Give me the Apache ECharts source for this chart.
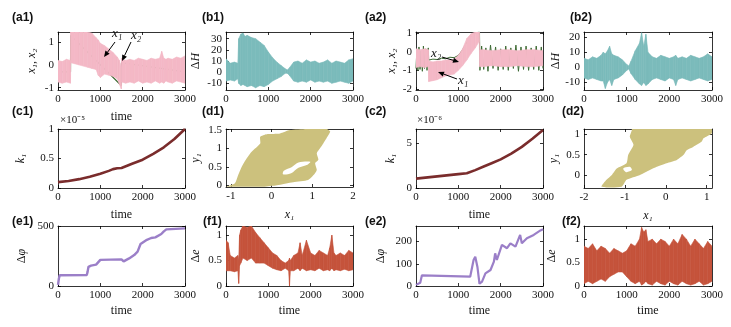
<!DOCTYPE html>
<html>
<head>
<meta charset="utf-8">
<script src="https://cdn.jsdelivr.net/npm/echarts@6/dist/echarts.min.js"></script>
<style>
html, body { margin: 0; padding: 0; background: #fff; }
#main { width: 731px; height: 327px; }
</style>
</head>
<body>
<div id="main"></div>
<script>
// ---- (a1) x1 band (pink) and x2 trace (green)
var a1T  = [0,100,200,295,300,400,500,600,700,800,900,950,1000,1100,1200,1300,1400,1450,1495,1505,1600,1700,1800,1900,2000,2100,2200,2300,2400,2450,2500,2550,2600,2700,2800,2900,3000];
var a1Hi = [0.2,0.15,0.25,0.2,1.45,1.45,1.45,1.45,1.45,1.4,1.2,1.1,0.95,0.85,0.7,0.55,0.35,0.2,-0.1,0.3,0.2,0.25,0.2,0.3,0.25,0.2,0.3,0.25,0.3,0.6,0.3,0.25,0.3,0.25,0.35,0.3,0.4];
var a1Lo = [-0.75,-0.8,-0.75,-0.8,0.1,0.05,0.0,-0.05,-0.1,-0.15,-0.2,-0.45,-0.55,-0.4,-0.45,-0.5,-0.6,-0.85,-1.05,-0.75,-0.8,-0.75,-0.8,-0.7,-0.8,-0.75,-0.8,-0.7,-0.8,-0.75,-0.8,-0.7,-0.75,-0.8,-0.7,-0.75,-0.8];
var a1X2T = [0,295,300,1495,1500,3000];
var a1X2V = [-0.3,-0.3,1.3,-0.9,0.1,-0.3];

// ---- (b1) delta H band (teal)
var b1T  = [0,100,200,280,300,350,400,450,500,600,700,800,900,1000,1100,1200,1300,1400,1450,1500,1600,1700,1800,1900,2000,2100,2200,2300,2400,2500,2600,2700,2800,2900,3000];
var b1Hi = [12,8,9,8,30,34,35,32,33,31,30,27,24,18,13,9,6,3,2,4,9,10,8,11,9,10,8,9,11,8,10,9,8,11,12];
var b1Lo = [-8,-7,-8,-6,-10,-12,-11,-12,-13,-12,-14,-12,-13,-11,-8,-6,-4,-1,-1,-3,-8,-9,-8,-9,-7,-9,-8,-9,-8,-10,-9,-8,-9,-10,-8];

// ---- (a2) x1 band (pink), x2 trace (green)
var a2T  = [0,100,200,295,300,400,500,600,700,800,900,1000,1100,1200,1300,1400,1495,1505,1600,1800,2000,2200,2400,2600,2800,3000];
var a2Hi = [0.15,0.1,0.15,0.1,-0.5,-0.55,-0.5,-0.5,-0.45,-0.45,-0.4,-0.2,0.15,0.7,0.95,1.05,1.05,0.1,0.1,0.05,0.1,0.1,0.05,0.1,0.1,0.05];
var a2Lo = [-0.85,-0.8,-0.85,-0.8,-1.6,-1.55,-1.5,-1.4,-1.3,-1.25,-1.2,-1.0,-0.75,-0.45,-0.1,0.2,0.55,-0.8,-0.8,-0.75,-0.8,-0.8,-0.75,-0.8,-0.8,-0.75];
var a2X2T = [0,20,45,70,95,120,150,175,200,230,260,290,300,400,500,600,700,800,900,1000,1100,1200,1300,1400,1500,1510,1550,1600,1650,1700,1760,1820,1880,1940,2000,2060,2120,2180,2240,2300,2360,2420,2480,2540,2600,2660,2720,2780,2840,2900,2960,3000];
var a2X2V = [-0.9,0.1,-1.0,0.25,-0.95,0.05,-1.05,0.3,-0.9,0.15,-1.0,0.2,-0.45,-0.4,-0.42,-0.35,-0.38,-0.3,-0.32,-0.2,0.1,0.5,0.8,1.0,1.05,-1.0,0.3,-0.95,0.2,-1.05,0.35,-0.9,0.25,-1.0,0.15,-0.95,0.3,-1.0,0.2,-0.9,0.35,-1.05,0.25,-0.95,0.3,-1.0,0.2,-0.95,0.3,-1.0,0.25,-0.9];

// ---- (b2) delta H band (teal)
var b2T  = [0,100,200,300,400,450,500,550,600,650,700,800,900,1000,1050,1100,1200,1300,1350,1400,1450,1500,1600,1700,1800,1900,2000,2100,2150,2200,2300,2400,2500,2600,2700,2800,2900,3000];
var b2Hi = [6,5,7,6,8,10,9,11,14,9,8,7,5,2,1,4,11,16,23,14,22,10,7,6,8,7,6,7,8,6,7,6,8,7,6,7,9,7];
var b2Lo = [-7,-8,-7,-8,-9,-9,-14,-10,-8,-12,-8,-7,-5,-2,-1,-4,-8,-11,-12,-10,-12,-11,-8,-7,-8,-9,-7,-8,-12,-8,-7,-8,-9,-8,-7,-8,-9,-8];

// ---- (c1) k1 (x1e-5), (c2) k1 (x1e-6)
var c1T = [0,250,500,750,1000,1200,1300,1400,1500,1750,2000,2250,2500,2750,3000];
var c1K = [0.1,0.12,0.15,0.19,0.24,0.29,0.32,0.335,0.34,0.41,0.48,0.58,0.69,0.83,1.0];
var c2T = [0,500,1000,1200,1400,1600,1800,2000,2250,2500,2750,3000];
var c2K = [1.05,1.3,1.55,1.65,2.0,2.4,2.8,3.2,3.85,4.6,5.5,6.5];

// ---- (d1), (d2) y1 vs x1 region outline and inner gap
var d1X = [-1.10,-0.90,-0.82,-0.73,-0.61,-0.49,-0.28,-0.28,-0.12,0.21,0.45,0.86,1.35,1.44,1.35,1.27,1.19,1.11,1.15,1.07,1.11,1.03,0.90,0.53,0.13,-0.20,-0.78];
var d1Y = [-0.03,0.06,0.28,0.51,0.73,0.91,1.13,1.31,1.38,1.40,1.49,1.52,1.52,1.45,1.27,1.13,1.00,0.87,0.69,0.60,0.42,0.28,0.15,0.09,0.01,-0.03,-0.03];
var d1GapX = [0.30,0.50,0.66,0.95,0.88,0.66,0.48,0.28];
var d1GapY = [0.40,0.50,0.62,0.64,0.56,0.48,0.33,0.30];
var d2X = [-1.57,-1.45,-1.32,-1.20,-0.96,-0.92,-0.79,-0.88,-0.83,-0.83,1.12,1.12,0.92,0.88,0.67,0.51,0.43,0.27,0.02,-0.22,-0.39,-0.63,-0.96,-1.08];
var d2Y = [-0.29,-0.12,0.0,0.16,0.29,0.49,0.74,0.94,1.10,1.13,1.13,1.02,0.90,0.82,0.69,0.61,0.49,0.37,0.29,0.20,0.12,0.0,-0.12,-0.29];
var d2GapX = [-1.04,-0.88,-0.83,-0.97];
var d2GapY = [0.16,0.20,0.12,0.07];

// ---- (e1), (e2) delta phi
var e1T = [0,20,40,680,700,720,780,800,900,1000,1500,1550,1580,1680,1800,1880,1920,1950,2100,2200,2300,2440,2500,2560,2600,3000];
var e1V = [10,60,90,92,120,160,170,175,178,218,222,205,203,230,258,286,300,350,385,400,405,433,455,472,480,480];
var e2T = [0,100,140,160,1280,1360,1400,1450,1500,1520,1560,1640,1760,1840,1870,1910,2030,2150,2230,2350,2460,2500,2620,2780,2940,3000];
var e2V = [5,15,48,42,42,117,132,87,10,5,20,57,72,110,147,117,185,170,192,177,230,192,215,230,250,255];

// ---- (f1), (f2) delta e bands
var f1T  = [0,50,100,200,280,300,320,350,400,500,600,700,800,900,1000,1100,1200,1300,1400,1480,1500,1520,1600,1700,1750,1800,1900,2000,2100,2200,2300,2400,2450,2500,2550,2600,2700,2800,2900,3000];
var f1Hi = [0.9,0.85,0.6,0.55,0.6,0.5,1.0,1.1,1.18,1.15,1.18,1.05,0.95,0.85,0.75,0.65,0.6,0.5,0.45,0.5,0.55,0.5,0.6,0.65,0.85,0.6,0.9,0.65,0.6,0.7,0.65,0.6,0.75,1.0,0.65,0.6,0.65,0.6,0.7,0.65];
var f1Lo = [0.3,0.3,0.3,0.28,0.3,0.05,0.4,0.45,0.55,0.5,0.55,0.45,0.45,0.45,0.4,0.35,0.32,0.3,0.35,0.3,0.0,0.3,0.3,0.35,0.3,0.35,0.3,0.32,0.3,0.35,0.3,0.32,0.3,0.35,0.3,0.32,0.3,0.33,0.3,0.32];
var f2T  = [0,100,200,300,400,500,600,700,800,900,1000,1100,1200,1300,1350,1400,1450,1500,1600,1700,1800,1900,2000,2100,2200,2300,2400,2500,2600,2700,2800,2900,3000];
var f2Hi = [0.85,0.8,0.9,0.75,0.85,0.8,0.7,0.8,0.75,0.7,0.75,0.9,0.85,1.0,1.25,1.15,1.2,0.95,1.0,0.9,1.0,0.95,0.85,1.0,0.9,1.1,1.0,0.85,1.0,0.9,0.8,0.95,0.85];
var f2Lo = [0.05,0.1,0.05,0.1,0.15,0.1,0.2,0.25,0.3,0.3,0.2,0.1,0.05,0.1,0.02,0.05,0.1,0.05,0.02,0.1,0.05,0.02,0.1,0.05,0.02,0.1,0.05,0.02,0.05,0.1,0.02,0.05,0.1];

// ---- axis ticks
var timeTicks = [0,1000,2000,3000];

var PINK = '#f4b8c6', GREEN = '#3d6a33', TEAL = '#7bbbbb', DRED = '#7a2c2c',
    OLIVE = '#ccc17d', PURPLE = '#9b7fc8', ORED = '#c5533b';
var SERIF = 'Liberation Serif';

var panels = [
  {id:'(a1)', g:[58,32,127,58],  x:[0,3000,timeTicks], y:[-1.1,1.45,[-1,0,1]], xName:'time', xGap:21, yName:'{i|x₁, x₂}', yGap:20, lab:[12,19]},
  {id:'(b1)', g:[226,32,127,58], x:[0,3000,timeTicks], y:[-16,36,[-10,0,10,20,30]], xName:'', yName:'{u|Δ}{i|H}', yGap:24, lab:[202,19]},
  {id:'(a2)', g:[416,32,127,58], x:[0,3000,timeTicks], y:[-2.05,1.05,[-2,-1,0,1]], xName:'', yName:'{i|x₁, x₂}', yGap:18, lab:[365,19]},
  {id:'(b2)', g:[584,32,128,58], x:[0,3000,timeTicks], y:[-15,23.5,[-10,0,10,20]], xName:'', yName:'{u|Δ}{i|H}', yGap:22, lab:[570,19]},
  {id:'(c1)', g:[58,129,127,59], x:[0,3000,timeTicks], y:[0,1,[0,0.5,1]], xName:'time', xGap:21, yName:'{i|k₁}', yGap:31, lab:[12,113]},
  {id:'(d1)', g:[226,129,127,58], x:[-1.12,2,[-1,0,1,2]], y:[-0.04,1.52,[0,0.5,1,1.5]], xName:'{i|x₁}', xGap:22, yName:'{i|y₁}', yGap:24, lab:[202,113]},
  {id:'(c2)', g:[416,129,127,59], x:[0,3000,timeTicks], y:[0,6.6,[0,5]], xName:'time', xGap:21, yName:'{i|k₁}', yGap:19, lab:[365,113]},
  {id:'(d2)', g:[584,129,128,59], x:[-2,1.13,[-2,-1,0,1]], y:[-0.32,1.13,[0,0.5,1]], xName:'{i|x₁}', xGap:22, yName:'{i|y₁}', yGap:24, lab:[562,113]},
  {id:'(e1)', g:[58,226,127,60], x:[0,3000,timeTicks], y:[0,500,[0,500]], xName:'time', xGap:19, yName:'{u|Δ}{i|φ}', yGap:30, lab:[12,223]},
  {id:'(f1)', g:[226,226,127,60], x:[0,3000,timeTicks], y:[0,1.18,[0,0.5,1]], xName:'time', xGap:19, yName:'{u|Δ}{i|e}', yGap:24, lab:[203,223]},
  {id:'(e2)', g:[416,226,127,60], x:[0,3000,timeTicks], y:[0,270,[0,100,200]], xName:'time', xGap:19, yName:'{u|Δ}{i|φ}', yGap:29, lab:[365,223]},
  {id:'(f2)', g:[584,226,128,60], x:[0,3000,timeTicks], y:[0,1.28,[0,0.5,1]], xName:'time', xGap:19, yName:'{u|Δ}{i|e}', yGap:26, lab:[562,223]}
];

var nameStyle = {
  fontFamily: SERIF, fontSize: 12, color: '#111',
  rich: {
    i: {fontFamily: SERIF, fontStyle: 'italic', fontSize: 12, color: '#111'},
    u: {fontFamily: SERIF, fontSize: 12, color: '#111'}
  }
};
var lineSt = {color: '#000', width: 0.8};
function plain(v) { return String(v); }

var grids = [], xAxes = [], yAxes = [], graphics = [];

panels.forEach(function (p, i) {
  grids.push({left: p.g[0], top: p.g[1], width: p.g[2], height: p.g[3], outerBoundsMode: 'none', containLabel: false});
  xAxes.push({
    type: 'value', gridIndex: i, position: 'bottom', min: p.x[0], max: p.x[1],
    axisLine: {onZero: false, lineStyle: lineSt},
    axisTick: {inside: true, length: 3, customValues: p.x[2], lineStyle: lineSt},
    axisLabel: {customValues: p.x[2], formatter: plain, margin: 4, fontFamily: SERIF, fontSize: 11, color: '#111'},
    splitLine: {show: false},
    name: p.xName, nameLocation: 'middle', nameGap: p.xGap || 20, nameTextStyle: nameStyle
  });
  xAxes.push({
    type: 'value', gridIndex: i, position: 'top', min: p.x[0], max: p.x[1],
    axisLine: {onZero: false, lineStyle: lineSt},
    axisTick: {inside: true, length: 3, customValues: p.x[2], lineStyle: lineSt},
    axisLabel: {show: false}, splitLine: {show: false}
  });
  yAxes.push({
    type: 'value', gridIndex: i, position: 'left', min: p.y[0], max: p.y[1],
    axisLine: {onZero: false, lineStyle: lineSt},
    axisTick: {inside: true, length: 3, customValues: p.y[2], lineStyle: lineSt},
    axisLabel: {customValues: p.y[2], formatter: plain, margin: 4, fontFamily: SERIF, fontSize: 11, color: '#111'},
    splitLine: {show: false},
    name: p.yName, nameLocation: 'middle', nameGap: p.yGap, nameTextStyle: nameStyle
  });
  yAxes.push({
    type: 'value', gridIndex: i, position: 'right', min: p.y[0], max: p.y[1],
    axisLine: {onZero: false, lineStyle: lineSt},
    axisTick: {inside: true, length: 3, customValues: p.y[2], lineStyle: lineSt},
    axisLabel: {show: false}, splitLine: {show: false}
  });
  graphics.push({
    type: 'text', left: p.lab[0], top: p.lab[1] - 7, z: 100,
    style: {text: p.id, fontFamily: 'Liberation Sans', fontWeight: 'bold', fontSize: 12, fill: '#111'}
  });
});

function pairs(t, v) {
  var out = [];
  for (var i = 0; i < t.length; i++) out.push([t[i], v[i]]);
  return out;
}

// filled band between hi and lo envelopes, one quad per time step
function band(idx, t, hi, lo, color) {
  var rows = [];
  for (var i = 0; i < t.length - 1; i++) {
    rows.push([t[i], hi[i], lo[i], t[i + 1], hi[i + 1], lo[i + 1]]);
  }
  return {
    type: 'custom', xAxisIndex: idx * 2, yAxisIndex: idx * 2, clip: true, silent: true, z: 3,
    encode: {x: [0, 3], y: [1, 2, 4, 5]},
    data: rows,
    renderItem: function (params, api) {
      var p1 = api.coord([api.value(0), api.value(1)]);
      var p2 = api.coord([api.value(3), api.value(4)]);
      var p3 = api.coord([api.value(3), api.value(5)]);
      var p4 = api.coord([api.value(0), api.value(2)]);
      return {type: 'polygon', shape: {points: [p1, p2, p3, p4]},
        style: {fill: color, stroke: color, lineWidth: 0.6}};
    }
  };
}

// filled region with a gap inside
function region(idx, xs, ys, gx, gy, color) {
  return {
    type: 'custom', xAxisIndex: idx * 2, yAxisIndex: idx * 2, clip: true, silent: true, z: 3,
    data: [[xs[0], ys[0]]],
    renderItem: function (params, api) {
      var outer = [], hole = [];
      for (var i = 0; i < xs.length; i++) outer.push(api.coord([xs[i], ys[i]]));
      for (var k = 0; k < gx.length; k++) hole.push(api.coord([gx[k], gy[k]]));
      return {
        type: 'group',
        children: [
          {type: 'polygon', shape: {points: outer, smooth: 0.2}, style: {fill: color}},
          {type: 'polygon', shape: {points: hole, smooth: 0.3}, style: {fill: '#fff'}}
        ]
      };
    }
  };
}

function line(idx, t, v, color, w, z) {
  return {
    type: 'line', xAxisIndex: idx * 2, yAxisIndex: idx * 2, data: pairs(t, v), z: z || 4,
    showSymbol: false, silent: true, lineStyle: {color: color, width: w}, animation: false
  };
}

var series = [
  line(0, a1X2T, a1X2V, GREEN, 1.2, 2),
  band(0, a1T, a1Hi, a1Lo, PINK),
  band(1, b1T, b1Hi, b1Lo, TEAL),
  line(2, a2X2T, a2X2V, GREEN, 1, 2),
  band(2, a2T, a2Hi, a2Lo, PINK),
  band(3, b2T, b2Hi, b2Lo, TEAL),
  line(4, c1T, c1K, DRED, 2.6),
  region(5, d1X, d1Y, d1GapX, d1GapY, OLIVE),
  line(6, c2T, c2K, DRED, 2.6),
  region(7, d2X, d2Y, d2GapX, d2GapY, OLIVE),
  line(8, e1T, e1V, PURPLE, 2.4),
  band(9, f1T, f1Hi, f1Lo, ORED),
  line(10, e2T, e2V, PURPLE, 2.2),
  band(11, f2T, f2Hi, f2Lo, ORED)
];

// annotation arrows
function arrow(x1, y1, x2, y2) {
  var a = Math.atan2(y2 - y1, x2 - x1), L = 6, W = 2.6;
  var bx = x2 - L * Math.cos(a), by = y2 - L * Math.sin(a);
  return [
    {type: 'line', z: 100, shape: {x1: x1, y1: y1, x2: bx, y2: by}, style: {stroke: '#000', lineWidth: 1}},
    {type: 'polygon', z: 100, shape: {points: [[x2, y2], [bx + W * Math.sin(a), by - W * Math.cos(a)], [bx - W * Math.sin(a), by + W * Math.cos(a)]]}, style: {fill: '#000'}}
  ];
}
function label(x, y, txt, size) {
  return {type: 'text', left: x, top: y, z: 100,
    style: {text: txt, fontFamily: SERIF, fontStyle: 'italic', fontSize: size || 13, fill: '#111'}};
}

graphics = graphics.concat(
  [label(112, 27, 'x₁'), label(131, 29, 'x₂')],
  arrow(115, 42, 104, 57), arrow(131, 42, 122, 61),
  [label(431, 47, 'x₂'), label(458, 74, 'x₁')],
  arrow(442, 57, 459, 62), arrow(457, 79, 438, 72),
  [{type: 'text', left: 60, top: 115, z: 100, style: {text: '×10⁻⁵', fontFamily: SERIF, fontSize: 11, fill: '#111'}},
   {type: 'text', left: 417, top: 115, z: 100, style: {text: '×10⁻⁶', fontFamily: SERIF, fontSize: 11, fill: '#111'}}]
);

var chart = echarts.init(document.getElementById('main'), null, {renderer: 'canvas'});
var option = {
  animation: false,
  backgroundColor: '#fff',
  grid: grids,
  xAxis: xAxes,
  yAxis: yAxes,
  series: series,
  graphic: graphics
};
chart.setOption(option, true);
</script>
</body>
</html>
